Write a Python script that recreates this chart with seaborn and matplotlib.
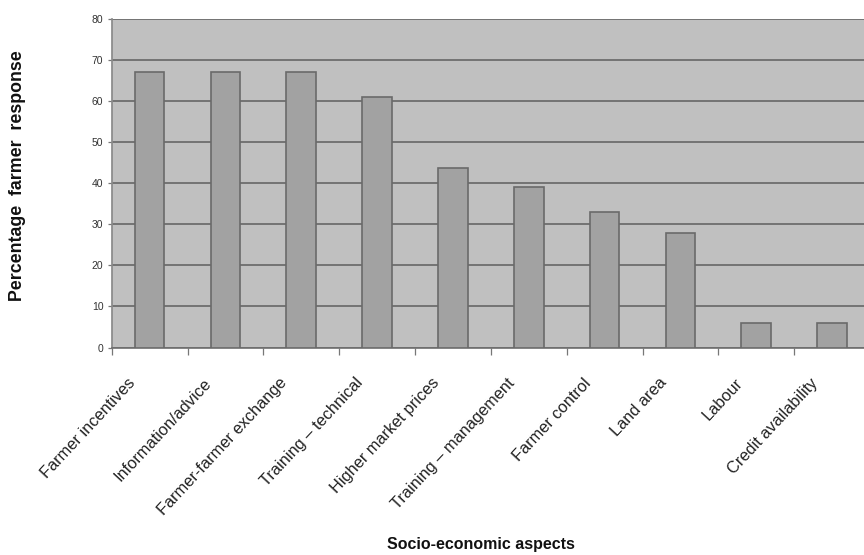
import matplotlib
matplotlib.use("Agg")
import matplotlib.pyplot as plt
from matplotlib.transforms import ScaledTranslation
import seaborn as sns
import pandas as pd

categories = [
    "Farmer incentives",
    "Information/advice",
    "Farmer-farmer exchange",
    "Training \u2013 technical",
    "Higher market prices",
    "Training \u2013 management",
    "Farmer control",
    "Land area",
    "Labour",
    "Credit availability",
]
responses = [67, 67, 67, 61, 43.7, 39, 33, 28, 6, 6]
y_ticks = [0, 10, 20, 30, 40, 50, 60, 70, 80]

df = pd.DataFrame({"aspect": categories, "response": responses})

sns.set_theme(style="white")
plt.rcParams["font.family"] = ["Liberation Sans", "DejaVu Sans"]

fig = plt.figure(figsize=(8.64, 5.55), dpi=100)
ax = fig.add_axes([111.7 / 864, 1 - 347.5 / 555, (870 - 111.7) / 864, (347.5 - 19) / 555])
ax.set_facecolor("#c0c0c0")

sns.barplot(data=df, x="aspect", y="response", color="#a2a2a2", saturation=1,
            edgecolor="#6a6a6a", linewidth=1.2, width=0.39, ax=ax, zorder=3)

ax.set_ylim(0, 80)
ax.set_xlim(-0.5, len(categories) - 0.5)
ax.set_yticks(y_ticks)
ax.set_yticklabels([str(t) for t in y_ticks], fontsize=7.5, color="#333333")
ax.yaxis.grid(True, color="#6e6e6e", linewidth=1.3, zorder=1)
ax.set_axisbelow(True)

# category labels hang below each bar, tick marks sit at category boundaries
ax.set_xticks(range(len(categories)))
ax.set_xticklabels(categories, rotation=47, ha="right", rotation_mode="anchor",
                   fontsize=11.8, color="#222222")
ax.tick_params(axis="x", which="major", length=0, pad=20)
shift = ScaledTranslation(-22 / 100, 0, fig.dpi_scale_trans)
for lab in ax.get_xticklabels():
    lab.set_transform(lab.get_transform() + shift)
ax.set_xticks([i - 0.5 for i in range(len(categories) + 1)], minor=True)
ax.tick_params(axis="x", which="minor", length=5, width=0.9, color="#777777", direction="out", bottom=True)
ax.tick_params(axis="y", length=3, width=0.9, color="#777777", direction="out", left=True, pad=3)

for side in ("top", "right"):
    ax.spines[side].set_visible(False)
ax.spines["left"].set_color("#8a8a8a")
ax.spines["bottom"].set_color("#6e6e6e")
ax.spines["bottom"].set_linewidth(1.2)

ax.set_xlabel("")
ax.set_ylabel("")
fig.text(18 / 864, 1 - 176 / 555, "Percentage  farmer  response", rotation=90,
         ha="center", va="center", fontsize=12.8, fontweight="bold", color="#111111")
fig.text(481 / 864, 1 - 545 / 555, "Socio-economic aspects", ha="center", va="center",
         fontsize=11.5, fontweight="bold", color="#111111")

fig.savefig("out.png", dpi=100)
